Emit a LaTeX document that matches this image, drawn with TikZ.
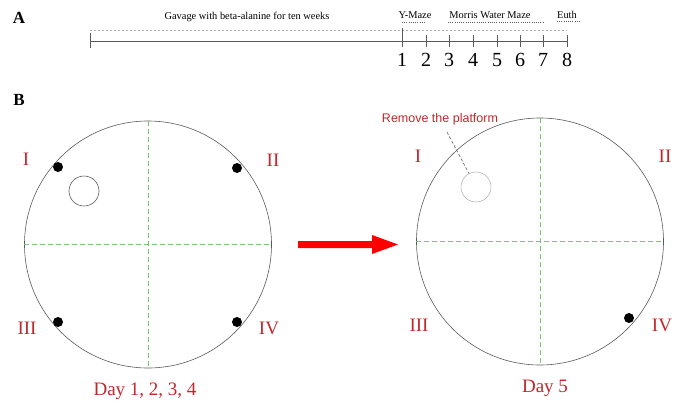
\documentclass[tikz,border=0pt]{standalone}
\usepackage{fontspec}
\setmainfont{Liberation Serif}
\newfontfamily\arialfont{Liberation Sans}
\definecolor{romanred}{RGB}{192,40,45}
\definecolor{poolgray}{RGB}{90,90,90}
\definecolor{gridgreen}{RGB}{120,195,120}
\definecolor{tlgray}{RGB}{170,170,170}
\begin{document}
\begin{tikzpicture}[x=1pt,y=-1pt,
  pool/.style={circle,draw=poolgray,line width=0.6pt,minimum size=247pt,inner sep=0pt},
  platformA/.style={circle,draw=poolgray,line width=0.6pt,minimum size=30pt,inner sep=0pt},
  platformB/.style={circle,draw=tlgray,line width=0.5pt,minimum size=30pt,inner sep=0pt},
  startdot/.style={circle,fill=black,minimum size=10pt,inner sep=0pt},
  quadline/.style={draw=gridgreen,line width=0.7pt,dash pattern=on 5pt off 3pt},
  roman/.style={text=romanred,font=\fontsize{19}{19}\selectfont,inner sep=0pt},
  daylabel/.style={text=romanred,font=\fontsize{19}{19}\selectfont,inner sep=0pt},
  panel/.style={font=\fontsize{17}{17}\selectfont\bfseries,inner sep=0pt},
  tlnum/.style={font=\fontsize{20}{20}\selectfont,inner sep=0pt},
  tltext/.style={font=\fontsize{10.4}{10.4}\selectfont,inner sep=0pt},
  tltick/.style={draw=poolgray,line width=0.7pt},
  underdot/.style={draw=poolgray,line width=0.6pt,dash pattern=on 1pt off 1.2pt},
]
\useasboundingbox (0,0) rectangle (678,405);
% ---------- Panel A ----------
\node[panel] (lblA) at (19,18) {A};
\node[tltext] (gav) at (247,17) {Gavage with beta-alanine for ten weeks};
\node[tltext] (ymaze) at (415,15) {Y-Maze};
\node[tltext] (mwm) at (490,15) {Morris Water Maze};
\node[tltext] (euth) at (567,15) {Euth};
\coordinate (tlS) at (90,41);
\coordinate (tlE) at (567,41);
\coordinate (dS) at (90,30);
\coordinate (dE) at (567,30);
\draw[draw=tlgray,line width=0.6pt,dash pattern=on 2pt off 2pt] (dS) -- (dE);
\draw[tltick] (tlS) -- (tlE);
\draw[tltick] (90,33) -- (90,48);
\coordinate (uY1) at (402,22); \coordinate (uY2) at (426,22);
\coordinate (uM1) at (448,22); \coordinate (uM2) at (543,22);
\coordinate (uE1) at (557,21); \coordinate (uE2) at (580,21);
\draw[underdot] (uY1) -- (uY2);
\draw[underdot] (uM1) -- (uM2);
\draw[underdot] (uE1) -- (uE2);
\draw[tltick] (402,28) -- (402,47);
\foreach \x in {426,449,473,497,520,543,567} {\draw[tltick] (\x,35) -- (\x,47);}
\node[tlnum] (t1) at (402,60) {1};
\node[tlnum] (t2) at (426,60) {2};
\node[tlnum] (t3) at (449,60) {3};
\node[tlnum] (t4) at (473,60) {4};
\node[tlnum] (t5) at (497,60) {5};
\node[tlnum] (t6) at (520,60) {6};
\node[tlnum] (t7) at (543,60) {7};
\node[tlnum] (t8) at (567,60) {8};
% ---------- Panel B ----------
\node[panel] (lblB) at (19,100) {B};
% left pool
\node[pool] (poolL) at (148,244.5) {};
\draw[quadline] (poolL.north) -- (poolL.south);
\draw[quadline] (poolL.west) -- (poolL.east);
\node[platformA] (platL) at (84,191) {};
\node[startdot] (dL1) at (58,167) {};
\node[startdot] (dL2) at (237,168) {};
\node[startdot] (dL3) at (58,322) {};
\node[startdot] (dL4) at (237,322) {};
\node[roman] (rL1) at (26,159) {I};
\node[roman] (rL2) at (273,160) {II};
\node[roman] (rL3) at (27,328) {III};
\node[roman] (rL4) at (269,328) {IV};
\node[daylabel] (dayL) at (145,391) {Day 1, 2, 3, 4};
% arrow
\fill[red] (298,241) -- (372,241) -- (372,235) -- (398,244.5) -- (372,254) -- (372,248) -- (298,248) -- cycle;
% right pool
\node[pool] (poolR) at (540,241.5) {};
\draw[quadline] (poolR.north) -- (poolR.south);
\draw[quadline] (poolR.west) -- (poolR.east);
\node[platformB] (platR) at (476,187) {};
\node[startdot] (dR4) at (629,318) {};
\node[roman] (rR1) at (418,156) {I};
\node[roman] (rR2) at (665,156) {II};
\node[roman] (rR3) at (419,325) {III};
\node[roman] (rR4) at (662,325) {IV};
\node[daylabel] (dayR) at (545,388) {Day 5};
\node[text=romanred,font=\arialfont\fontsize{12.5}{12.5}\selectfont,inner sep=0pt] (remove) at (440,119) {Remove the platform};
\coordinate (leadS) at (447,132);
\draw[draw=poolgray,line width=0.6pt,dash pattern=on 3pt off 2pt] (leadS) -- (platR);
\end{tikzpicture}
\end{document}
